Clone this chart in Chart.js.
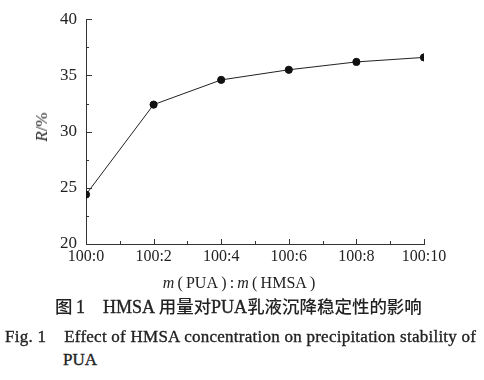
<!DOCTYPE html>
<html>
<head>
<meta charset="utf-8">
<script src="https://cdn.jsdelivr.net/npm/chart.js@4"></script>
<style>
  html,body{margin:0;padding:0;background:#fff;}
  body{width:484px;height:380px;position:relative;overflow:hidden;font-family:"Liberation Serif","Times New Roman",serif;color:#222;}
  #wrap{position:absolute;left:0;top:0;width:484px;height:275px;}
  .t{position:absolute;white-space:nowrap;}
  #ytitle{left:42px;top:127px;transform:translate(-50%,-50%) rotate(-90deg);font-size:17px;}
  #xtitle{left:239px;top:283px;transform:translate(-50%,-50%);font-size:16px;}
  .cap{-webkit-text-stroke:0.35px #222;}
  #cap1{left:55px;top:305px;transform:translateY(-50%);font-size:17px;}
  #cap1 .cn{font-family:"Noto Sans CJK SC";font-weight:500;font-size:0.97em;-webkit-text-stroke:0;}
  #cap2{left:5px;top:337px;transform:translateY(-50%);font-size:17px;}
  #cap3{left:63px;top:360px;transform:translateY(-50%);font-size:17px;}
</style>
</head>
<body>
<div id="wrap"><canvas id="c"></canvas></div>
<div class="t" id="ytitle"><i>R</i>/%</div>
<div class="t" id="xtitle"><i>m</i>&thinsp;(&thinsp;PUA&thinsp;)&thinsp;:&thinsp;<i>m</i>&thinsp;(&thinsp;HMSA&thinsp;)</div>
<div class="t cap" id="cap1"><span class="cn">图</span>&thinsp;1&nbsp;&nbsp;&nbsp;&nbsp;HMSA&thinsp;<span class="cn">用量对</span>PUA<span class="cn">乳液沉降稳定性的影响</span></div>
<div class="t cap" id="cap2">Fig. 1&nbsp;&nbsp;&nbsp;&nbsp;Effect of HMSA concentration on precipitation stability of</div>
<div class="t cap" id="cap3">PUA</div>
<script>
const categories = ['100:0','100:2','100:4','100:6','100:8','100:10'];
const rValues = [24.4, 32.4, 34.6, 35.5, 36.2, 36.6];
const yMin = 20, yMax = 40, yStep = 5;

// fit caption widths to the reference's line lengths
function fitSpacing(id, target){
  const el = document.getElementById(id);
  const w = el.getBoundingClientRect().width;
  if (w > 0) el.style.letterSpacing = ((target - w) / Math.max(1, el.textContent.length - 1)) + 'px';
}
function fitFont(id, target){
  const el = document.getElementById(id);
  const w = el.getBoundingClientRect().width;
  const fs = parseFloat(getComputedStyle(el).fontSize);
  if (w > 0) el.style.fontSize = (fs * target / w) + 'px';
}
fitSpacing('cap2', 471);
fitFont('cap1', 367);

const inwardTicks = {
  id:'inwardTicks',
  afterDatasetsDraw(chart){
    const ctx = chart.ctx, xs = chart.scales.x, ys = chart.scales.y;
    const a = chart.chartArea;
    ctx.save();
    ctx.strokeStyle = '#333';
    ctx.lineWidth = 1;
    ctx.beginPath();
    for (let v = yMin; v <= yMax; v += yStep/2) {
      const y = Math.round(ys.getPixelForValue(v)) + 0.5;
      const len = ((v - yMin) % yStep === 0) ? 6 : 3;
      ctx.moveTo(a.left, y); ctx.lineTo(a.left + len, y);
    }
    for (let i = 0; i < categories.length; i++) {
      const x = Math.round(xs.getPixelForValue(i)) + 0.5;
      ctx.moveTo(x, a.bottom); ctx.lineTo(x, a.bottom - 5);
      if (i < categories.length - 1) {
        const xm = Math.round((xs.getPixelForValue(i) + xs.getPixelForValue(i+1))/2) + 0.5;
        ctx.moveTo(xm, a.bottom); ctx.lineTo(xm, a.bottom - 3);
      }
    }
    ctx.stroke();
    ctx.restore();
  }
};

new Chart(document.getElementById('c'), {
  type:'line',
  data:{
    labels: categories,
    datasets:[{
      data: rValues,
      borderColor:'#222',
      borderWidth:1,
      backgroundColor:'#111',
      pointBackgroundColor:'#111',
      pointBorderColor:'#111',
      pointRadius:3.6,
      tension:0,
      clip:0
    }]
  },
  options:{
    responsive:true,
    maintainAspectRatio:false,
    animation:false,
    events:[],
    layout:{padding:{left:0,right:60,top:18,bottom:0}},
    plugins:{legend:{display:false},tooltip:{enabled:false}},
    scales:{
      x:{
        type:'category',
        offset:false,
        grid:{display:false,drawTicks:false},
        border:{display:true,color:'#333',width:1},
        ticks:{padding:3,color:'#222',font:{family:'Liberation Serif',size:16},maxRotation:0,autoSkip:false},
        afterFit(s){s.height=31;}
      },
      y:{
        min:yMin,max:yMax,
        grid:{display:false,drawTicks:false},
        border:{display:true,color:'#333',width:1},
        ticks:{stepSize:yStep,padding:9,color:'#222',font:{family:'Liberation Serif',size:17}},
        afterFit(s){s.width=86;}
      }
    }
  },
  plugins:[inwardTicks]
});
</script>
</body>
</html>
